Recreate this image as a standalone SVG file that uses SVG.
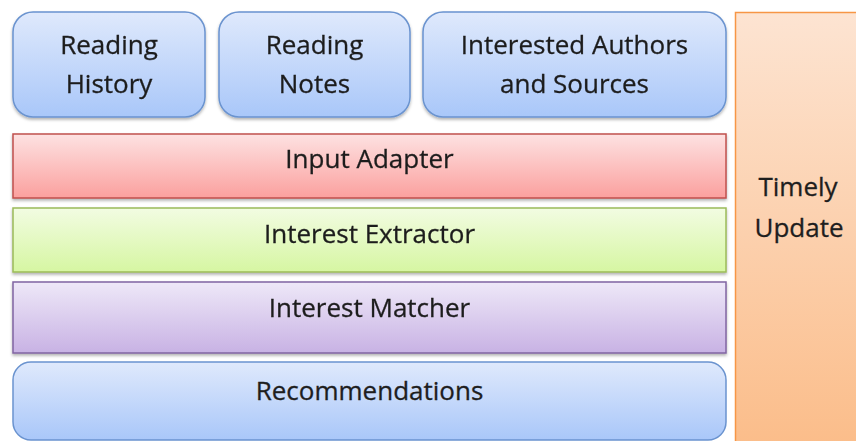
<svg xmlns="http://www.w3.org/2000/svg" width="856" height="441" viewBox="0 0 856 441">
<defs>
<linearGradient id="gBlue" x1="0" y1="0" x2="0" y2="1"><stop offset="0" stop-color="#dfe9fc"/><stop offset="1" stop-color="#a9c7f9"/></linearGradient>
<linearGradient id="gRed" x1="0" y1="0" x2="0" y2="1"><stop offset="0" stop-color="#fde2e2"/><stop offset="1" stop-color="#fba09e"/></linearGradient>
<linearGradient id="gGreen" x1="0" y1="0" x2="0" y2="1"><stop offset="0" stop-color="#f2fce2"/><stop offset="1" stop-color="#d6f6a2"/></linearGradient>
<linearGradient id="gPurple" x1="0" y1="0" x2="0" y2="1"><stop offset="0" stop-color="#eee8f8"/><stop offset="1" stop-color="#c8b2e4"/></linearGradient>
<linearGradient id="gOrange" x1="0" y1="0" x2="0" y2="1"><stop offset="0" stop-color="#fde4d2"/><stop offset="1" stop-color="#fbbd8a"/></linearGradient>
<filter id="sh" x="-5%" y="-10%" width="110%" height="130%"><feDropShadow dx="0" dy="2" stdDeviation="1.5" flood-color="#000" flood-opacity="0.3"/></filter>
</defs>
<style>
text{font-family:"Open Sans","Liberation Sans",sans-serif;font-size:26px;fill:#1e1e1e;stroke:#1e1e1e;stroke-width:0.3;text-anchor:middle}
.blue{fill:url(#gBlue);stroke:#6a93cf;stroke-width:1.5}
.red{fill:url(#gRed);stroke:#c0504d;stroke-width:1.5}
.green{fill:url(#gGreen);stroke:#9bbb59;stroke-width:1.5}
.purple{fill:url(#gPurple);stroke:#8064a2;stroke-width:1.5}
.orange{fill:url(#gOrange);stroke:#f79646;stroke-width:1.5}
</style>
<rect width="856" height="441" fill="#fff"/>
<g id="timely-update">
<rect class="orange" x="735.5" y="12.5" width="125" height="432"/>
<text x="798" y="196">Timely</text>
<text x="799" y="237">Update</text>
</g>
<g id="reading-history" filter="url(#sh)">
<rect class="blue" x="13" y="12" width="192" height="105" rx="20"/>
<text x="109" y="54">Reading</text>
<text x="109" y="93">History</text>
</g>
<g id="reading-notes" filter="url(#sh)">
<rect class="blue" x="219" y="12" width="191" height="105" rx="20"/>
<text x="314.5" y="54">Reading</text>
<text x="314.5" y="93">Notes</text>
</g>
<g id="interested-authors" filter="url(#sh)">
<rect class="blue" x="423" y="12" width="303" height="105" rx="20"/>
<text x="574.5" y="54">Interested Authors</text>
<text x="574.5" y="93">and Sources</text>
</g>
<g id="input-adapter" filter="url(#sh)">
<rect class="red" x="13" y="134" width="713" height="64"/>
<text x="369.5" y="168">Input Adapter</text>
</g>
<g id="interest-extractor" filter="url(#sh)">
<rect class="green" x="13" y="208" width="713" height="64"/>
<text x="369.5" y="243">Interest Extractor</text>
</g>
<g id="interest-matcher" filter="url(#sh)">
<rect class="purple" x="13" y="282" width="713" height="71"/>
<text x="369.5" y="317">Interest Matcher</text>
</g>
<g id="recommendations">
<rect class="blue" x="13" y="362" width="713" height="78" rx="18"/>
<text x="369.5" y="400">Recommendations</text>
</g>
<g id="connectors"/>
</svg>
